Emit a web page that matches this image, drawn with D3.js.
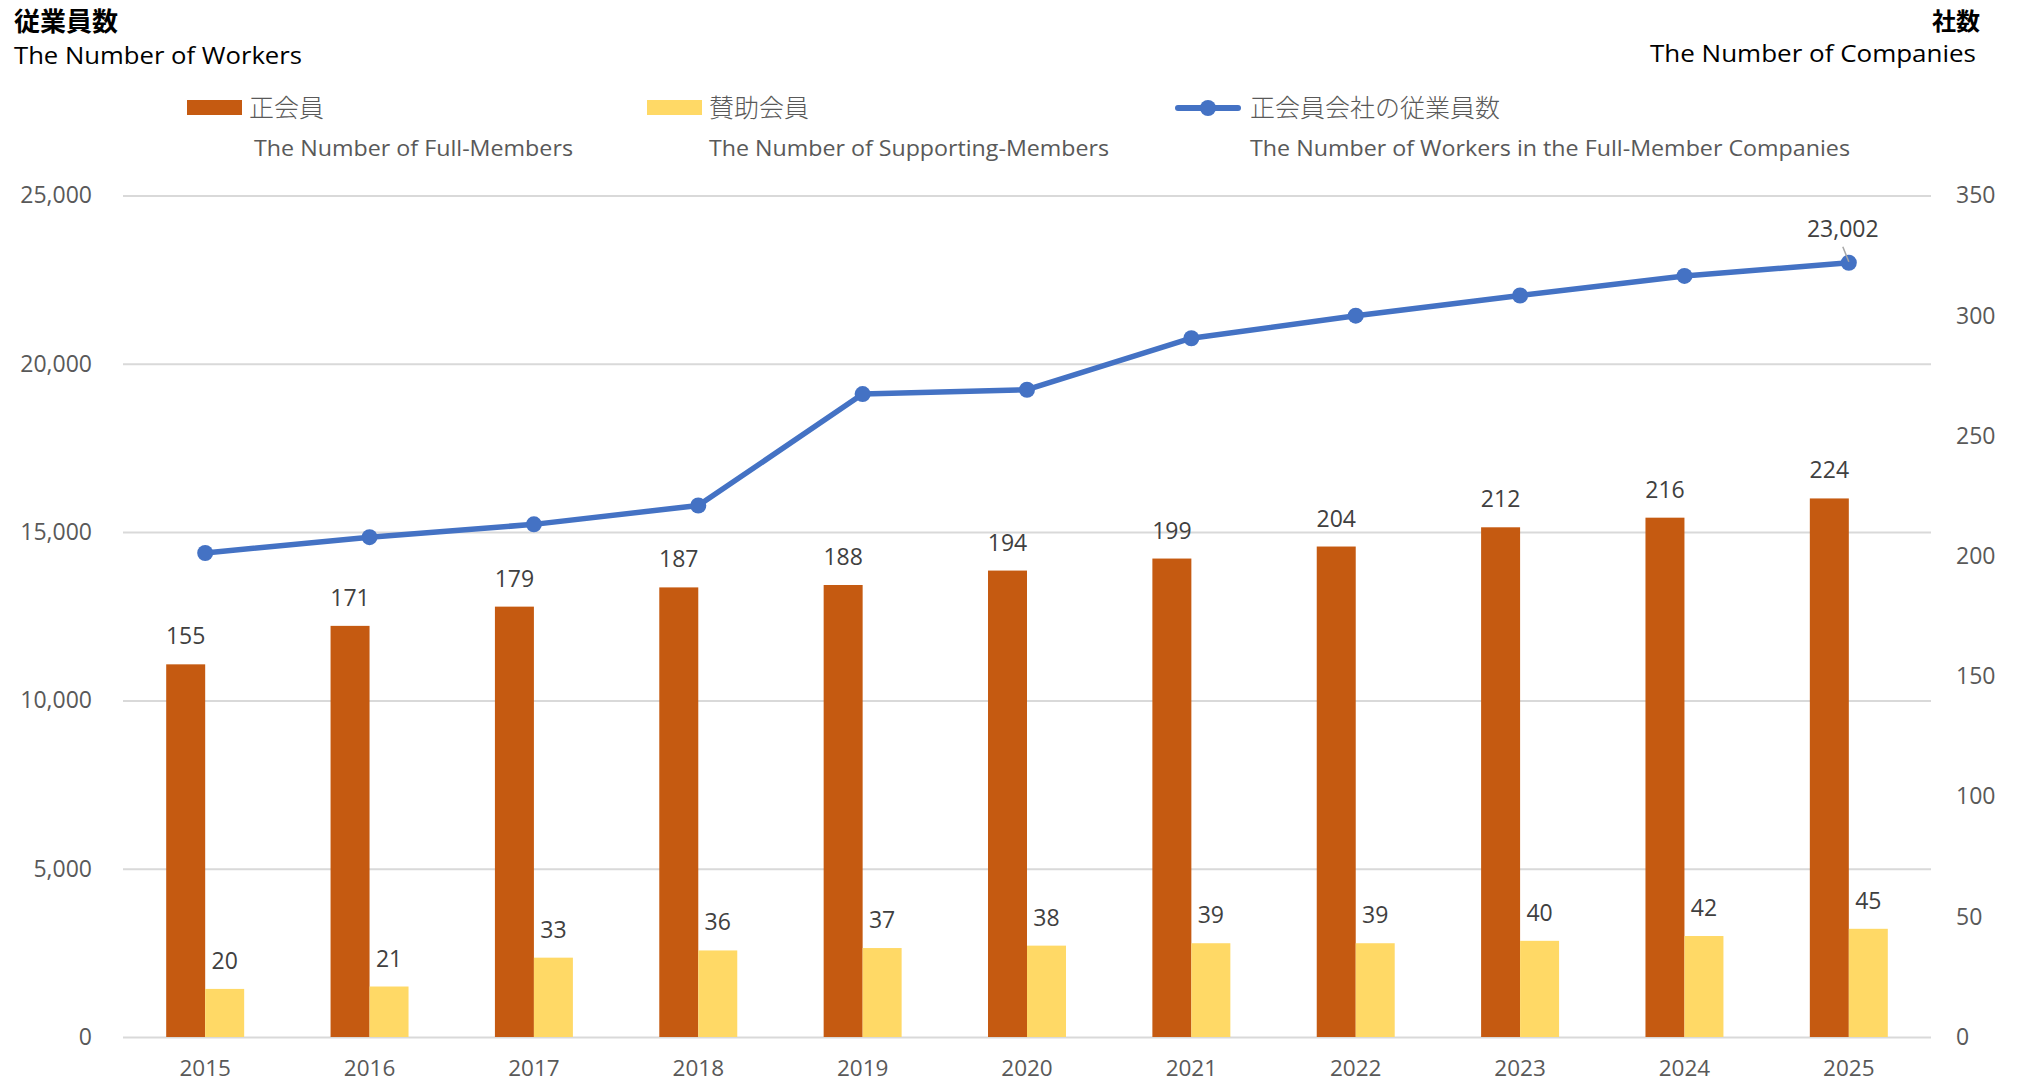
<!DOCTYPE html>
<html>
<head>
<meta charset="utf-8">
<script src="https://cdn.jsdelivr.net/npm/d3@7"></script>
<style>
  html, body { margin: 0; padding: 0; background: #fff; }
  svg { display: block; }
  .num { font-family: "Open Sans", "Noto Sans", sans-serif; }
  .jp { font-family: "Noto Sans CJK JP", "Noto Sans", sans-serif; }
</style>
</head>
<body>
<script>
// ---- data ----
const years = ["2015","2016","2017","2018","2019","2020","2021","2022","2023","2024","2025"];
const fullMembers = [155,171,179,187,188,194,199,204,212,216,224];
const supportingMembers = [20,21,33,36,37,38,39,39,40,42,45];
const workers = [14380,14850,15230,15790,19100,19230,20760,21430,22030,22610,23002];
const leftTicks = [0,5000,10000,15000,20000,25000];
const rightTicks = [0,50,100,150,200,250,300,350];
const seriesNames = ["正会員","賛助会員","正会員会社の従業員数"];
const seriesNamesEn = ["The Number of Full-Members","The Number of Supporting-Members","The Number of Workers in the Full-Member Companies"];
const colors = ["#C55A11","#FFD966","#4472C4"];

const W = 2020, H = 1082;
const svg = d3.select("body").append("svg").attr("width", W).attr("height", H);

const plotL = 123, plotR = 1931, plotB = 1037, plotT = 195.5;
const x = d3.scaleBand().domain(years).range([plotL, plotR]);
const yL = d3.scaleLinear().domain([0,25000]).range([plotB, plotT]);
const yR = d3.scaleLinear().domain([0,350]).range([plotB, plotT]);
const xs = d3.scaleBand().domain(["full","sup"]).range([0, x.bandwidth()]).paddingInner(0).paddingOuter(1.108);

// gridlines
const grid = svg.append("g").attr("transform", `translate(${plotL},0)`)
  .call(d3.axisLeft(yL).tickValues(leftTicks).tickSize(-(plotR-plotL)).tickFormat(""));
grid.select(".domain").remove();
grid.selectAll("line").attr("stroke", "#d9d9d9").attr("stroke-width", 2);

// left axis labels
const ax1 = svg.append("g").attr("transform", `translate(${plotL},0)`)
  .call(d3.axisLeft(yL).tickValues(leftTicks).tickSize(0).tickPadding(31).tickFormat(d3.format(",")));
ax1.select(".domain").remove();
ax1.selectAll("text").attr("class","num").attr("font-size", 23).attr("fill", "#595959");

// right axis labels
const ax2 = svg.append("g").attr("transform", `translate(${plotR},0)`)
  .call(d3.axisRight(yR).tickValues(rightTicks).tickSize(0).tickPadding(25));
ax2.select(".domain").remove();
ax2.selectAll("text").attr("class","num").attr("font-size", 23).attr("fill", "#595959");

// bottom axis
const ax3 = svg.append("g").attr("transform", `translate(0,${plotB})`)
  .call(d3.axisBottom(x).tickSize(0).tickPadding(23));
ax3.select(".domain").remove();
ax3.selectAll("text").attr("class","num").attr("font-size", 22.5).attr("fill", "#595959");

// bars
const groups = [["full", fullMembers, colors[0]], ["sup", supportingMembers, colors[1]]];
groups.forEach(([key, vals, col]) => {
  svg.append("g").selectAll("rect").data(vals).join("rect")
    .attr("x", (d,i) => x(years[i]) + xs(key))
    .attr("width", xs.bandwidth())
    .attr("y", d => yR(d))
    .attr("height", d => yR(0) - yR(d))
    .attr("fill", col);
  svg.append("g").selectAll("text").data(vals).join("text")
    .attr("class","num")
    .attr("x", (d,i) => x(years[i]) + xs(key) + xs.bandwidth()/2)
    .attr("y", d => yR(d) - 20)
    .attr("text-anchor","middle")
    .attr("font-size", 23)
    .attr("fill", "#404040")
    .text(d => d);
});

// line
const cx = (d,i) => x(years[i]) + x.bandwidth()/2;
svg.append("path").datum(workers)
  .attr("fill","none").attr("stroke", colors[2]).attr("stroke-width", 5.5)
  .attr("stroke-linejoin","round").attr("stroke-linecap","round")
  .attr("d", d3.line().x(cx).y(d => yL(d)));
svg.append("g").selectAll("circle").data(workers).join("circle")
  .attr("cx", cx).attr("cy", d => yL(d)).attr("r", 8).attr("fill", colors[2]);

// last-point label with leader line
const li = workers.length - 1;
const lpx = cx(workers[li], li), lpy = yL(workers[li]);
svg.append("line").attr("x1", lpx - 6).attr("y1", lpy - 16).attr("x2", lpx).attr("y2", lpy - 1)
  .attr("stroke", "#a6a6a6").attr("stroke-width", 1.5);
svg.append("text").attr("class","num").attr("x", lpx - 6).attr("y", lpy - 26)
  .attr("text-anchor","middle").attr("font-size", 23).attr("fill","#404040")
  .text(d3.format(",")(workers[li]));

// titles
svg.append("text").attr("class","jp").attr("x", 14).attr("y", 30.5)
  .attr("font-size", 26).attr("font-weight", "bold").attr("fill", "#000").text("従業員数");
svg.append("text").attr("class","num").attr("x", 14).attr("y", 64)
  .attr("font-size", 23).attr("fill", "#000")
  .attr("textLength", 288).attr("lengthAdjust", "spacingAndGlyphs").text("The Number of Workers");
svg.append("text").attr("class","jp").attr("x", 1980).attr("y", 30).attr("text-anchor","end")
  .attr("font-size", 24).attr("font-weight", "bold").attr("fill", "#000").text("社数");
svg.append("text").attr("class","num").attr("x", 1650).attr("y", 62)
  .attr("font-size", 23).attr("fill", "#000")
  .attr("textLength", 326).attr("lengthAdjust", "spacingAndGlyphs").text("The Number of Companies");

// legend
const legX = [187, 647, 1178];
const legTextX = [249, 709, 1250];
const legEnW = [319, 400, 600];
legX.forEach((lx, i) => {
  if (i < 2) {
    svg.append("rect").attr("x", lx).attr("y", 100).attr("width", 55).attr("height", 15).attr("fill", colors[i]);
  } else {
    svg.append("line").attr("x1", lx).attr("x2", lx + 60).attr("y1", 108).attr("y2", 108)
      .attr("stroke", colors[2]).attr("stroke-width", 6).attr("stroke-linecap","round");
    svg.append("circle").attr("cx", lx + 30).attr("cy", 108).attr("r", 8).attr("fill", colors[2]);
  }
  svg.append("text").attr("class","jp").attr("x", legTextX[i]).attr("y", 117)
    .attr("font-size", 25).attr("font-weight", 300).attr("fill", "#595959").text(seriesNames[i]);
  svg.append("text").attr("class","num").attr("x", legTextX[i] + (i===0?5:0)).attr("y", 156)
    .attr("font-size", 22.5).attr("fill", "#595959")
    .attr("textLength", legEnW[i]).attr("lengthAdjust", "spacingAndGlyphs")
    .text(seriesNamesEn[i]);
});
</script>
</body>
</html>
